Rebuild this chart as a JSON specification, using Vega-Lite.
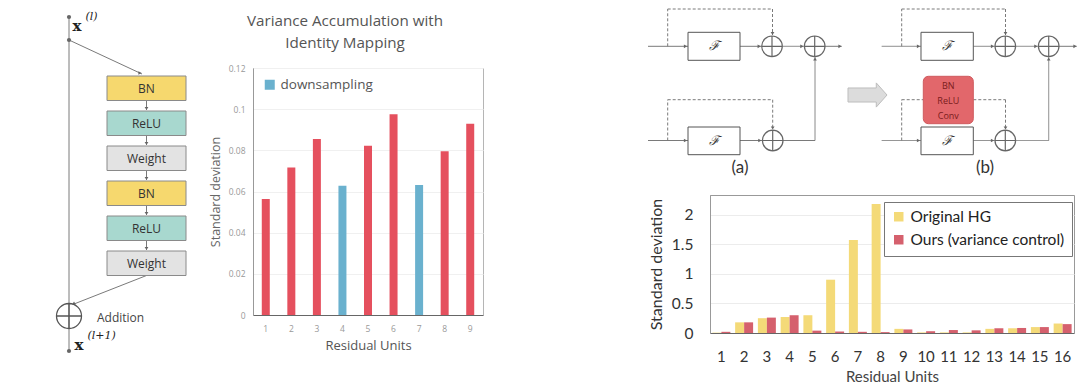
{
  "$schema": "https://vega.github.io/schema/vega-lite/v6.json",
  "padding": 0,
  "background": "white",
  "bounds": "flush",
  "spacing": 710,
  "resolve": {"scale": {"x": "independent", "y": "independent", "color": "independent", "fill": "independent", "shape": "independent", "strokeDash": "independent"}, "legend": {"color": "independent", "fill": "independent", "shape": "independent", "strokeDash": "independent"}, "axis": {"x": "independent", "y": "independent"}},
  "config": {"view": {"stroke": null}, "font": "Open Sans"},
  "datasets": {
    "chart1": [
      {"unit": 1, "sd": 0.0564, "type": "regular"},
      {"unit": 2, "sd": 0.0717, "type": "regular"},
      {"unit": 3, "sd": 0.0855, "type": "regular"},
      {"unit": 4, "sd": 0.0628, "type": "downsampling"},
      {"unit": 5, "sd": 0.0822, "type": "regular"},
      {"unit": 6, "sd": 0.0975, "type": "regular"},
      {"unit": 7, "sd": 0.0632, "type": "downsampling"},
      {"unit": 8, "sd": 0.0796, "type": "regular"},
      {"unit": 9, "sd": 0.0929, "type": "regular"}
    ],
    "chart2": [
      {"unit": 1, "series": "Original HG", "sd": 0.006}, {"unit": 1, "series": "Ours (variance control)", "sd": 0.02},
      {"unit": 2, "series": "Original HG", "sd": 0.18}, {"unit": 2, "series": "Ours (variance control)", "sd": 0.18},
      {"unit": 3, "series": "Original HG", "sd": 0.25}, {"unit": 3, "series": "Ours (variance control)", "sd": 0.26},
      {"unit": 4, "series": "Original HG", "sd": 0.27}, {"unit": 4, "series": "Ours (variance control)", "sd": 0.30},
      {"unit": 5, "series": "Original HG", "sd": 0.30}, {"unit": 5, "series": "Ours (variance control)", "sd": 0.04},
      {"unit": 6, "series": "Original HG", "sd": 0.90}, {"unit": 6, "series": "Ours (variance control)", "sd": 0.025},
      {"unit": 7, "series": "Original HG", "sd": 1.57}, {"unit": 7, "series": "Ours (variance control)", "sd": 0.02},
      {"unit": 8, "series": "Original HG", "sd": 2.18}, {"unit": 8, "series": "Ours (variance control)", "sd": 0.015},
      {"unit": 9, "series": "Original HG", "sd": 0.07}, {"unit": 9, "series": "Ours (variance control)", "sd": 0.06},
      {"unit": 10, "series": "Original HG", "sd": 0.01}, {"unit": 10, "series": "Ours (variance control)", "sd": 0.03},
      {"unit": 11, "series": "Original HG", "sd": 0.01}, {"unit": 11, "series": "Ours (variance control)", "sd": 0.05},
      {"unit": 12, "series": "Original HG", "sd": 0.01}, {"unit": 12, "series": "Ours (variance control)", "sd": 0.045},
      {"unit": 13, "series": "Original HG", "sd": 0.07}, {"unit": 13, "series": "Ours (variance control)", "sd": 0.08},
      {"unit": 14, "series": "Original HG", "sd": 0.08}, {"unit": 14, "series": "Ours (variance control)", "sd": 0.085},
      {"unit": 15, "series": "Original HG", "sd": 0.10}, {"unit": 15, "series": "Ours (variance control)", "sd": 0.10},
      {"unit": 16, "series": "Original HG", "sd": 0.16}, {"unit": 16, "series": "Ours (variance control)", "sd": 0.15}
    ],
    "diagL_lines": [
      {"x": 69, "y": 14, "x2": 69, "y2": 348},
      {"x": 69, "y": 37, "x2": 142, "y2": 71},
      {"x": 146.5, "y": 97.5, "x2": 146.5, "y2": 107},
      {"x": 146.5, "y": 132.5, "x2": 146.5, "y2": 142},
      {"x": 146.5, "y": 167, "x2": 146.5, "y2": 177},
      {"x": 146.5, "y": 202.5, "x2": 146.5, "y2": 212},
      {"x": 146.5, "y": 237.5, "x2": 146.5, "y2": 247},
      {"x": 146.5, "y": 272.5, "x2": 74, "y2": 301}
    ],
    "diagL_blocks": [
      {"layer": "BN", "x": 107, "x2": 186, "y": 73, "y2": 97.5},
      {"layer": "ReLU", "x": 107, "x2": 186, "y": 108, "y2": 132.5},
      {"layer": "Weight", "x": 107, "x2": 186, "y": 143, "y2": 167.5},
      {"layer": "BN", "x": 107, "x2": 186, "y": 178, "y2": 202.5},
      {"layer": "ReLU", "x": 107, "x2": 186, "y": 213, "y2": 237.5},
      {"layer": "Weight", "x": 107, "x2": 186, "y": 248, "y2": 272.5}
    ],
    "diagL_heads": [
      {"x": 146.5, "y": 105.5, "dir": "down"},
      {"x": 146.5, "y": 140.5, "dir": "down"},
      {"x": 146.5, "y": 175.5, "dir": "down"},
      {"x": 146.5, "y": 210.5, "dir": "down"},
      {"x": 146.5, "y": 245.5, "dir": "down"},
      {"x": 140, "y": 70, "dir": "right"},
      {"x": 74, "y": 300, "dir": "up"}
    ],
    "diagR_lines": [
      {"kind": "main", "x": 648, "y": 43.3, "x2": 688, "y2": 43.3},
      {"kind": "main", "x": 740, "y": 43.3, "x2": 761.7, "y2": 43.3},
      {"kind": "main", "x": 782.3, "y": 43.3, "x2": 804.4, "y2": 43.3},
      {"kind": "main", "x": 825, "y": 43.3, "x2": 841.7, "y2": 43.3},
      {"kind": "main", "x": 648, "y": 137.5, "x2": 688, "y2": 137.5},
      {"kind": "main", "x": 740, "y": 137.5, "x2": 762.4, "y2": 137.5},
      {"kind": "main", "x": 783, "y": 137.5, "x2": 815, "y2": 137.5},
      {"kind": "main", "x": 815, "y": 137.5, "x2": 815, "y2": 53.6},
      {"kind": "main", "x": 881.7, "y": 43.3, "x2": 921, "y2": 43.3},
      {"kind": "main", "x": 973.3, "y": 43.3, "x2": 995, "y2": 43.3},
      {"kind": "main", "x": 1015.6, "y": 43.3, "x2": 1038.4, "y2": 43.3},
      {"kind": "main", "x": 1059, "y": 43.3, "x2": 1076.7, "y2": 43.3},
      {"kind": "main", "x": 881.7, "y": 137.5, "x2": 921, "y2": 137.5},
      {"kind": "main", "x": 973.3, "y": 137.5, "x2": 995, "y2": 137.5},
      {"kind": "main", "x": 1015.6, "y": 137.5, "x2": 1048.7, "y2": 137.5},
      {"kind": "main", "x": 1048.7, "y": 137.5, "x2": 1048.7, "y2": 53.6},
      {"kind": "skip", "x": 667.7, "y": 43.3, "x2": 667.7, "y2": 6},
      {"kind": "skip", "x": 667.7, "y": 6, "x2": 772.5, "y2": 6},
      {"kind": "skip", "x": 772.5, "y": 6, "x2": 772.5, "y2": 32},
      {"kind": "skip", "x": 667.7, "y": 137.5, "x2": 667.7, "y2": 96.7},
      {"kind": "skip", "x": 667.7, "y": 96.7, "x2": 772.7, "y2": 96.7},
      {"kind": "skip", "x": 772.7, "y": 96.7, "x2": 772.7, "y2": 126.5},
      {"kind": "skip", "x": 901.7, "y": 43.3, "x2": 901.7, "y2": 6},
      {"kind": "skip", "x": 901.7, "y": 6, "x2": 1005.5, "y2": 6},
      {"kind": "skip", "x": 1005.5, "y": 6, "x2": 1005.5, "y2": 32},
      {"kind": "skip", "x": 901.7, "y": 137.5, "x2": 901.7, "y2": 96.7},
      {"kind": "skip", "x": 901.7, "y": 96.7, "x2": 923.3, "y2": 96.7},
      {"kind": "skip", "x": 973.3, "y": 96.7, "x2": 1005.5, "y2": 96.7},
      {"kind": "skip", "x": 1005.5, "y": 96.7, "x2": 1005.5, "y2": 126.5}
    ],
    "diagR_boxes": [
      {"label": "ℱ", "x": 688, "x2": 740, "y": 29.3, "y2": 57.3},
      {"label": "ℱ", "x": 688, "x2": 740, "y": 124, "y2": 151.7},
      {"label": "ℱ", "x": 921, "x2": 973.3, "y": 29.3, "y2": 57.3},
      {"label": "ℱ", "x": 921, "x2": 973.3, "y": 124, "y2": 151.7}
    ],
    "diagR_heads": [
      {"x": 685.5, "y": 43.3, "dir": "right"}, {"x": 759.2, "y": 43.3, "dir": "right"},
      {"x": 801.9, "y": 43.3, "dir": "right"}, {"x": 840, "y": 43.3, "dir": "right"},
      {"x": 685.5, "y": 137.5, "dir": "right"}, {"x": 759.9, "y": 137.5, "dir": "right"},
      {"x": 918.5, "y": 43.3, "dir": "right"}, {"x": 992.5, "y": 43.3, "dir": "right"},
      {"x": 1035.9, "y": 43.3, "dir": "right"}, {"x": 1075, "y": 43.3, "dir": "right"},
      {"x": 918.5, "y": 137.5, "dir": "right"}, {"x": 992.5, "y": 137.5, "dir": "right"},
      {"x": 772.5, "y": 30.5, "dir": "down"}, {"x": 772.7, "y": 125, "dir": "down"},
      {"x": 1005.5, "y": 30.5, "dir": "down"}, {"x": 1005.5, "y": 125, "dir": "down"},
      {"x": 815, "y": 56, "dir": "up"}, {"x": 1048.7, "y": 56, "dir": "up"}
    ],
    "diagR_adders": [
      {"x": 772, "y": 43.3}, {"x": 814.7, "y": 43.3}, {"x": 772.7, "y": 137.5},
      {"x": 1005.3, "y": 43.3}, {"x": 1048.7, "y": 43.3}, {"x": 1005.3, "y": 137.5}
    ],
    "diagR_norm": [
      {"label": "BN", "x": 923.3, "x2": 973.3, "y": 73.3, "y2": 120.7}
    ],
    "diagR_normtext": [
      {"label": "BN", "x": 948.3, "y": 83.3},
      {"label": "ReLU", "x": 948.3, "y": 98},
      {"label": "Conv", "x": 948.3, "y": 112.5}
    ],
    "diagR_captions": [
      {"label": "(a)", "x": 740, "y": 165},
      {"label": "(b)", "x": 985, "y": 165}
    ]
  },
  "hconcat": [
    {
      "bounds": "flush",
      "spacing": 53,
      "resolve": {"scale": {"x": "independent", "y": "independent", "color": "independent", "fill": "independent", "shape": "independent", "strokeDash": "independent"}, "legend": {"color": "independent", "fill": "independent", "shape": "independent", "strokeDash": "independent"}},
      "hconcat": [
        {
          "width": 200,
          "height": 382,
          "encoding": {
            "x": {"field": "x", "type": "quantitative", "scale": {"domain": [0, 200], "nice": false, "zero": false}, "axis": null},
            "y": {"field": "y", "type": "quantitative", "scale": {"domain": [0, 382], "nice": false, "zero": false, "reverse": true}, "axis": null}
          },
          "layer": [
            {
              "data": {"name": "diagL_lines"},
              "mark": {"type": "rule", "color": "#7a7a7a", "strokeWidth": 1},
              "encoding": {"x2": {"field": "x2"}, "y2": {"field": "y2"}}
            },
            {
              "data": {"name": "diagL_heads"},
              "mark": {"type": "point", "filled": true, "color": "#666", "size": 14, "opacity": 1},
              "encoding": {"shape": {"field": "dir", "type": "nominal", "scale": {"domain": ["right", "down", "up"], "range": ["triangle-right", "triangle-down", "triangle-up"]}, "legend": null}}
            },
            {
              "data": {"name": "diagL_blocks"},
              "mark": {"type": "rect", "stroke": "#8a8a8a", "strokeWidth": 1},
              "encoding": {
                "x2": {"field": "x2"}, "y2": {"field": "y2"},
                "fill": {"field": "layer", "type": "nominal", "scale": {"domain": ["BN", "ReLU", "Weight"], "range": ["#F6D86E", "#A8D8CF", "#E3E3E3"]}, "legend": null}
              }
            },
            {
              "data": {"name": "diagL_blocks"},
              "mark": {"type": "text", "dx": 39.5, "dy": 12.5, "align": "center", "baseline": "middle", "fontSize": 12, "color": "#333", "font": "Open Sans"},
              "encoding": {"text": {"field": "layer"}}
            },
            {
              "data": {"values": [{"x": 69, "y": 313}]},
              "mark": {"type": "point", "shape": "M-1,0A1,1,0,1,1,1,0A1,1,0,1,1,-1,0M-1,0L1,0M0,-1L0,1", "size": 625, "filled": false, "stroke": "#555", "strokeWidth": 1.3, "opacity": 1}
            },
            {
              "data": {"values": [{"x": 69, "y": 37}, {"x": 69, "y": 14}, {"x": 69, "y": 348}]},
              "mark": {"type": "point", "shape": "circle", "filled": true, "color": "#666", "size": 18, "opacity": 1}
            },
            {
              "data": {"values": [{"label": "x", "x": 77, "y": 23}, {"label": "x", "x": 79, "y": 342}]},
              "mark": {"type": "text", "font": "DejaVu Serif", "fontWeight": "bold", "fontSize": 15, "color": "#222", "align": "center", "baseline": "middle"},
              "encoding": {"text": {"field": "label"}}
            },
            {
              "data": {"values": [{"label": "(l)", "x": 85.5, "y": 14}, {"label": "(l+1)", "x": 87.5, "y": 333}]},
              "mark": {"type": "text", "font": "DejaVu Serif", "fontStyle": "italic", "fontSize": 11, "color": "#222", "align": "left", "baseline": "middle"},
              "encoding": {"text": {"field": "label"}}
            },
            {
              "data": {"values": [{"label": "Addition", "x": 97, "y": 315}]},
              "mark": {"type": "text", "font": "Open Sans", "fontSize": 12, "color": "#444", "align": "left", "baseline": "middle"},
              "encoding": {"text": {"field": "label"}}
            }
          ]
        },
        {
          "bounds": "flush",
          "spacing": 64,
          "resolve": {"scale": {"x": "independent", "y": "independent", "color": "independent"}, "legend": {"color": "independent"}},
          "vconcat": [
            {
              "width": 230,
              "height": 1,
              "data": {"values": [{}]},
              "mark": {"type": "point", "opacity": 0},
              "encoding": {}
            },
            {
              "width": 230,
              "height": 247,
              "data": {"name": "chart1"},
              "view": {"stroke": "#b5b5b5"},
              "title": {
                "text": ["Variance Accumulation with", "Identity Mapping"],
                "font": "Open Sans", "fontSize": 15.2, "fontWeight": "normal", "color": "#555",
                "lineHeight": 22, "offset": 13, "anchor": "middle", "dx": -23
              },
              "mark": {"type": "bar", "size": 8},
              "encoding": {
                "x": {
                  "field": "unit", "type": "ordinal",
                  "axis": {
                    "title": "Residual Units", "labelAngle": 0, "labelFont": "Open Sans", "labelFontSize": 8.5, "labelColor": "#999",
                    "ticks": false, "labelPadding": 9, "domainColor": "#666",
                    "titleFont": "Open Sans", "titleFontSize": 13, "titleFontWeight": "normal", "titleColor": "#555", "titlePadding": 7
                  }
                },
                "y": {
                  "field": "sd", "type": "quantitative",
                  "scale": {"domain": [0, 0.12], "nice": false},
                  "axis": {
                    "title": "Standard deviation", "values": [0, 0.02, 0.04, 0.06, 0.08, 0.1, 0.12], "format": ".2~f",
                    "labelFont": "Open Sans", "labelFontSize": 8.5, "labelColor": "#999", "ticks": false, "labelPadding": 8,
                    "domainColor": "#999", "gridColor": "#f0f0f0",
                    "titleFont": "Open Sans", "titleFontSize": 12.5, "titleFontWeight": "normal", "titleColor": "#666", "titlePadding": 6
                  }
                },
                "color": {
                  "field": "type", "type": "nominal",
                  "scale": {"domain": ["regular", "downsampling"], "range": ["#E5505E", "#6AB1CE"]},
                  "legend": {
                    "values": ["downsampling"], "title": null, "orient": "none", "legendX": 10, "legendY": 10,
                    "symbolType": "square", "symbolSize": 100, "symbolStrokeWidth": 0,
                    "labelFont": "Open Sans", "labelFontSize": 13.5, "labelColor": "#555"
                  }
                }
              }
            }
          ]
        }
      ]
    },
    {
      "bounds": "flush",
      "spacing": 22,
      "resolve": {"scale": {"x": "independent", "y": "independent", "color": "independent", "shape": "independent", "strokeDash": "independent"}, "legend": {"color": "independent", "shape": "independent", "strokeDash": "independent"}},
      "vconcat": [
        {
          "width": 364,
          "height": 170,
          "encoding": {
            "x": {"field": "x", "type": "quantitative", "scale": {"domain": [710, 1074], "nice": false, "zero": false}, "axis": null},
            "y": {"field": "y", "type": "quantitative", "scale": {"domain": [0, 170], "nice": false, "zero": false, "reverse": true}, "axis": null}
          },
          "layer": [
            {
              "data": {"name": "diagR_lines"},
              "mark": {"type": "rule", "color": "#7a7a7a", "strokeWidth": 1},
              "encoding": {
                "x2": {"field": "x2"}, "y2": {"field": "y2"},
                "strokeDash": {"field": "kind", "type": "nominal", "scale": {"domain": ["main", "skip"], "range": [[1, 0], [3, 2]]}, "legend": null}
              }
            },
            {
              "data": {"name": "diagR_heads"},
              "mark": {"type": "point", "filled": true, "color": "#666", "size": 14, "opacity": 1},
              "encoding": {"shape": {"field": "dir", "type": "nominal", "scale": {"domain": ["right", "down", "up"], "range": ["triangle-right", "triangle-down", "triangle-up"]}, "legend": null}}
            },
            {
              "data": {"name": "diagR_boxes"},
              "mark": {"type": "rect", "fill": "white", "stroke": "#555", "strokeWidth": 1},
              "encoding": {"x2": {"field": "x2"}, "y2": {"field": "y2"}}
            },
            {
              "data": {"name": "diagR_boxes"},
              "mark": {"type": "text", "dx": 26, "dy": 14, "align": "center", "baseline": "middle", "font": "DejaVu Serif", "fontStyle": "italic", "fontSize": 13, "color": "#333"},
              "encoding": {"text": {"field": "label"}}
            },
            {
              "data": {"name": "diagR_norm"},
              "mark": {"type": "rect", "fill": "#E2676B", "stroke": "#cf5a5e", "strokeWidth": 1, "cornerRadius": 5},
              "encoding": {"x2": {"field": "x2"}, "y2": {"field": "y2"}}
            },
            {
              "data": {"name": "diagR_normtext"},
              "mark": {"type": "text", "align": "center", "baseline": "middle", "font": "Open Sans", "fontSize": 9, "color": "#7a1c1c"},
              "encoding": {"text": {"field": "label"}}
            },
            {
              "data": {"name": "diagR_adders"},
              "mark": {"type": "point", "shape": "M-1,0A1,1,0,1,1,1,0A1,1,0,1,1,-1,0M-1,0L1,0M0,-1L0,1", "size": 424, "filled": false, "stroke": "#666", "strokeWidth": 1.2, "opacity": 1}
            },
            {
              "data": {"values": [{"x": 867.5, "y": 92}]},
              "mark": {"type": "point", "shape": "M-1,-0.36L0.45,-0.36L0.45,-0.62L1,0L0.45,0.62L0.45,0.36L-1,0.36Z", "size": 1521, "filled": true, "fill": "#dcdcdc", "stroke": "#bdbdbd", "strokeWidth": 1, "opacity": 1}
            },
            {
              "data": {"name": "diagR_captions"},
              "mark": {"type": "text", "align": "center", "baseline": "middle", "font": "Lato", "fontSize": 17, "color": "#333"},
              "encoding": {"text": {"field": "label"}}
            }
          ]
        },
        {
          "width": 364,
          "height": 138,
          "data": {"name": "chart2"},
          "view": {"stroke": "#999"},
          "mark": {"type": "bar"},
          "encoding": {
            "x": {
              "field": "unit", "type": "ordinal",
              "scale": {"paddingInner": 0.21, "paddingOuter": 0.105},
              "axis": {
                "title": "Residual Units", "labelAngle": 0, "labelFont": "Lato", "labelFontSize": 15, "labelColor": "#333",
                "ticks": false, "labelPadding": 16, "domainColor": "#666",
                "titleFont": "Lato", "titleFontSize": 15, "titleFontWeight": "normal", "titleColor": "#444", "titlePadding": 5
              }
            },
            "xOffset": {"field": "series", "type": "nominal", "scale": {"domain": ["Original HG", "Ours (variance control)"], "paddingInner": 0, "paddingOuter": 0}},
            "y": {
              "field": "sd", "type": "quantitative",
              "scale": {"domain": [0, 2.33], "nice": false},
              "axis": {
                "title": "Standard deviation", "values": [0, 0.5, 1, 1.5, 2], "format": "~g",
                "labelFont": "Lato", "labelFontSize": 15.5, "labelColor": "#333", "ticks": false, "labelPadding": 17,
                "domainColor": "#999", "gridColor": "#ececec",
                "titleFont": "Lato", "titleFontSize": 16, "titleFontWeight": "normal", "titleColor": "#333", "titlePadding": 7
              }
            },
            "color": {
              "field": "series", "type": "nominal",
              "scale": {"domain": ["Original HG", "Ours (variance control)"], "range": ["#F4DA78", "#D5606D"]},
              "legend": {
                "title": null, "orient": "none", "legendX": 174, "legendY": 7,
                "strokeColor": "#777", "fillColor": "white", "padding": 7,
                "symbolType": "square", "symbolSize": 90, "symbolStrokeWidth": 0,
                "labelFont": "Lato", "labelFontSize": 15.5, "labelColor": "#222", "rowPadding": 6
              }
            }
          }
        }
      ]
    }
  ]
}
